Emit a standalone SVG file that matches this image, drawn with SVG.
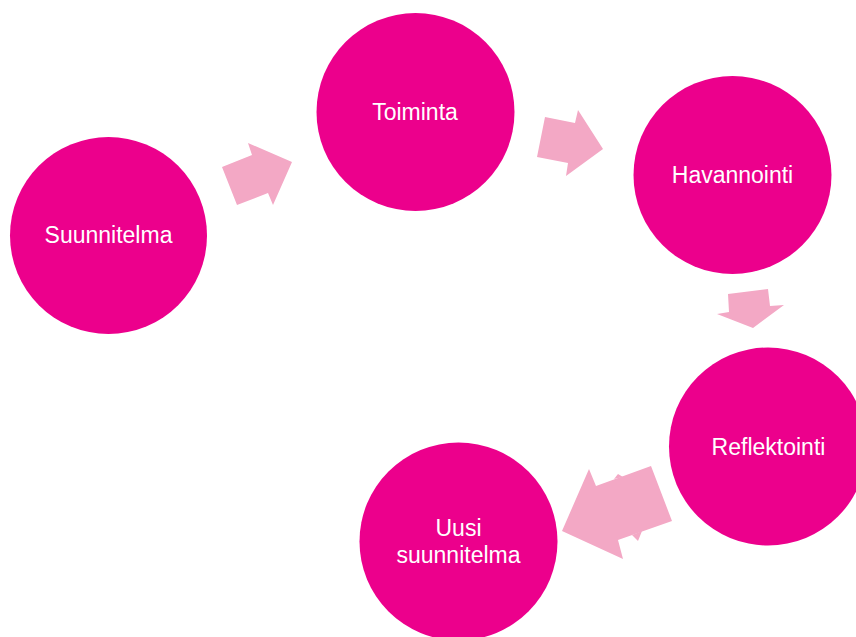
<svg xmlns="http://www.w3.org/2000/svg" width="856" height="637" viewBox="0 0 856 637">
<style>
.node{fill:#EC008C}
.lbl{fill:#ffffff;font-family:"Liberation Sans",Arial,sans-serif;font-size:23px;text-anchor:middle}
.arr{fill:#F3A8C5}
</style>
<rect width="856" height="637" fill="#ffffff"/>
<g id="connectors">
<polygon class="arr" points="222,167 237,205 268,193 273,205 292,162 248,143 252,155"/>
<polygon class="arr" points="545,117 575,123 578,110 603,149 566,176 568,163 537,157"/>
<polygon class="arr" points="728,294 768,289 770,306 784,305 753,328 717,314 729,312"/>
<polygon class="arr" points="562,531 589,469 596,486 651,466 672,521 618,540 623,559"/>
<polygon class="arr" points="614,479 618,474 623,477"/>
<polygon class="arr" points="632,535 638,541 642,531"/>
</g>
<g id="suunnitelma">
<circle class="node" cx="108.5" cy="235.5" r="98.5"/>
<text class="lbl" x="108.5" y="243">Suunnitelma</text>
</g>
<g id="toiminta">
<circle class="node" cx="415.5" cy="112" r="99"/>
<text class="lbl" x="415" y="120">Toiminta</text>
</g>
<g id="havannointi">
<circle class="node" cx="732.5" cy="175" r="99"/>
<text class="lbl" x="732.5" y="183">Havannointi</text>
</g>
<g id="reflektointi">
<circle class="node" cx="768" cy="446.5" r="99"/>
<text class="lbl" x="768.5" y="455">Reflektointi</text>
</g>
<g id="uusi">
<circle class="node" cx="458.5" cy="541.5" r="99"/>
<text class="lbl" x="458.5" y="536">Uusi</text>
<text class="lbl" x="458.5" y="563">suunnitelma</text>
</g>
</svg>
